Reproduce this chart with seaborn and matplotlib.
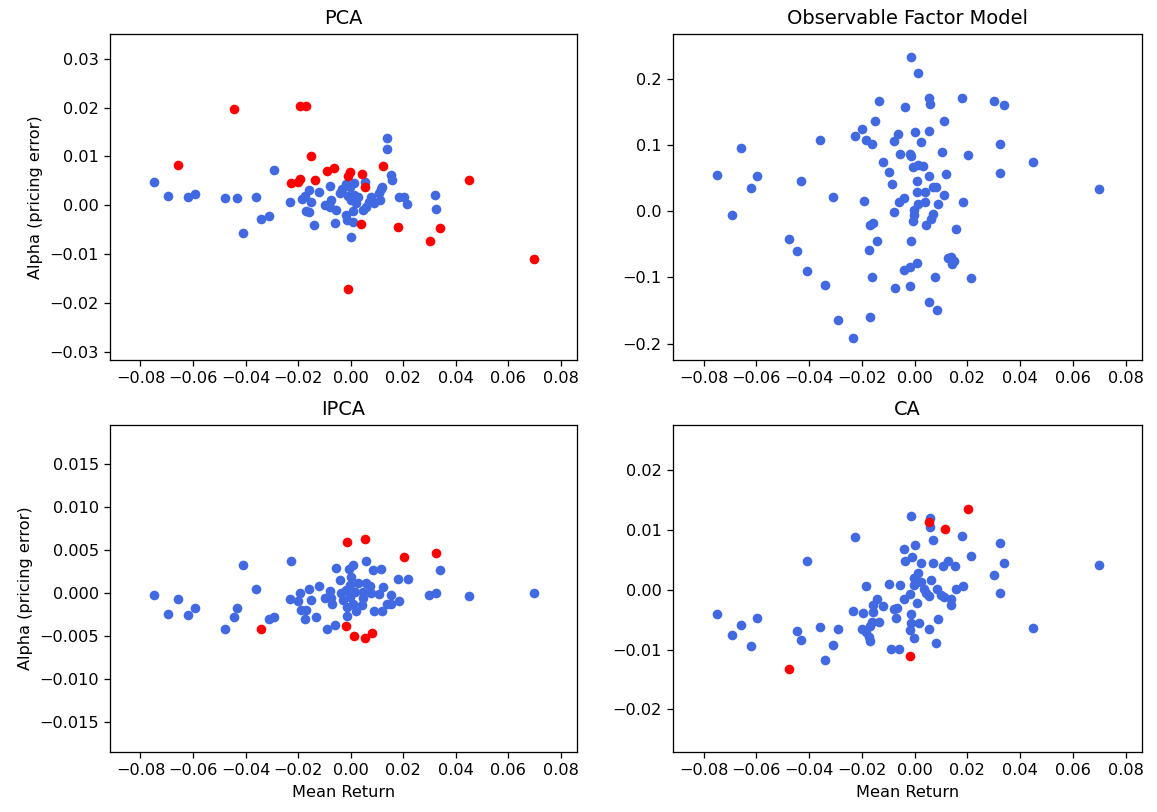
import numpy as np
import pandas as pd
import matplotlib
matplotlib.use("Agg")
import matplotlib.pyplot as plt
import seaborn as sns

# ---------------- PCA ----------------
pca_ret = [-0.0748, -0.0694, -0.0620, -0.0594, -0.0478, -0.0432, -0.0360, -0.0408,
           -0.0341, -0.0309, -0.0290, -0.0232, -0.0184, -0.0174, -0.0158, -0.0152,
           -0.0171, -0.0160, -0.0139, -0.0120, -0.0079, -0.0099, -0.0076, -0.0079,
           -0.0054, -0.0061, 0.0000, -0.0016, -0.0013, 0.0010,
           -0.0042, -0.0033, -0.0019, -0.0004, 0.0014, -0.0010, 0.0003, 0.0022,
           0.0028, 0.0011, 0.0047, 0.0060, 0.0070, 0.0079, 0.0091, 0.0108,
           0.0114, 0.0120, 0.0113, 0.0054, 0.0014,
           0.0139, 0.0139, 0.0153, 0.0157, 0.0184, 0.0203, 0.0215, 0.0323, 0.0324]
pca_alpha = [0.0047, 0.0020, 0.0018, 0.0023, 0.0014, 0.0014, 0.0016, -0.0057,
             -0.0029, -0.0021, 0.0073, 0.0006, 0.0012, 0.0020, 0.0031, 0.0007,
             -0.0012, -0.0014, -0.0040, 0.0028, 0.0040, 0.0000, 0.0011, -0.0003,
             -0.0010, -0.0037, -0.0065, -0.0020, -0.0031, -0.0034,
             0.0025, 0.0033, 0.0044, 0.0038, 0.0046, 0.0019, 0.0011, 0.0004,
             0.0018, -0.0012, -0.0010, -0.0003, 0.0007, 0.0018, 0.0004, 0.0025,
             0.0033, 0.0038, 0.0011, 0.0048, 0.0021,
             0.0137, 0.0115, 0.0063, 0.0051, 0.0016, 0.0018, 0.0003, 0.0021, -0.0008]
pca_sig_ret = [-0.0445, -0.0191, -0.0171, -0.0658, -0.0151, -0.0089, -0.0062,
               -0.0004, -0.0011, 0.0043, 0.0056, 0.0124, -0.0227, -0.0199, -0.0193,
               -0.0134, 0.0449, 0.0039, 0.0180, 0.0340, 0.0302, 0.0699, -0.0009]
pca_sig_alpha = [0.0198, 0.0204, 0.0204, 0.0082, 0.0101, 0.0070, 0.0076,
                 0.0068, 0.0059, 0.0064, 0.0038, 0.0080, 0.0045, 0.0048, 0.0054,
                 0.0052, 0.0052, -0.0039, -0.0044, -0.0046, -0.0074, -0.0110, -0.0172]

# ---------------- Observable factor model ----------------
ofm_ret = [-0.0013, 0.0011, -0.0135, -0.0036, 0.0056, 0.0059, 0.0180, 0.0300, 0.0338,
           -0.0151, -0.0200, -0.0227, -0.0184, -0.0160, -0.0360, -0.0659, -0.0749,
           -0.0596, -0.0620, -0.0694, -0.0432, -0.0311, -0.0193, -0.0063, -0.0078,
           0.0000, 0.0024, 0.0054, 0.0110, -0.0055, -0.0017, -0.0013, 0.0104, 0.0203,
           0.0323, 0.0324, 0.0449, 0.0699, -0.0120, -0.0098, -0.0087, -0.0008, 0.0014,
           0.0033, 0.0053, 0.0118, 0.0009, 0.0009, 0.0039, 0.0068, 0.0081, 0.0113,
           0.0184, -0.0039, -0.0061, -0.0078, 0.0014, 0.0040, 0.0090, -0.0002,
           -0.0002, -0.0005, 0.0071, 0.0062, 0.0044, 0.0156, -0.0169, -0.0156,
           -0.0141, -0.0174, -0.0013, -0.0478, -0.0445, -0.0409, -0.0341, -0.0290,
           -0.0233, -0.0171, -0.0163, -0.0074, -0.0017, -0.0041, -0.0019, 0.0010,
           0.0078, 0.0056, 0.0085, 0.0125, 0.0138, 0.0151, 0.0141, 0.0215]
ofm_alpha = [0.2329, 0.2078, 0.1660, 0.1570, 0.1701, 0.1620, 0.1706, 0.1656, 0.1595,
             0.1354, 0.1238, 0.1127, 0.1067, 0.1011, 0.1067, 0.0956, 0.0543,
             0.0528, 0.0347, -0.0060, 0.0458, 0.0216, 0.0156, 0.1157, 0.1057,
             0.1192, 0.1042, 0.1203, 0.1354, 0.0865, 0.0860, 0.0830, 0.0886, 0.0841,
             0.1007, 0.0578, 0.0744, 0.0332, 0.0735, 0.0584, 0.0403, 0.0669, 0.0694,
             0.0674, 0.0533, 0.0558, 0.0448, 0.0292, 0.0292, 0.0357, 0.0367, 0.0247,
             0.0136, 0.0196, 0.0136, -0.0010, 0.0106, 0.0136, 0.0106, 0.0015,
             -0.0060, -0.0146, -0.0050, -0.0121, -0.0216, -0.0277, -0.0206, -0.0186,
             -0.0448, -0.0589, -0.0453, -0.0418, -0.0609, -0.0910, -0.1122, -0.1641,
             -0.1917, -0.1605, -0.1001, -0.1167, -0.1127, -0.0895, -0.0845, -0.0790,
             -0.1001, -0.1369, -0.1499, -0.0704, -0.0689, -0.0750, -0.0805, -0.1011]
ofm_sig_ret = []
ofm_sig_alpha = []

# ---------------- IPCA ----------------
ipca_ret = [-0.0748, -0.0658, -0.0694, -0.0620, -0.0594, -0.0408, -0.0360, -0.0432,
            -0.0445, -0.0478, -0.0309, -0.0290, -0.0227, -0.0232, -0.0199, -0.0193,
            -0.0190, -0.0168, -0.0172, -0.0133, -0.0158, -0.0152, -0.0120, -0.0099,
            -0.0080, -0.0071, -0.0089, -0.0060, -0.0056, -0.0041, -0.0006, 0.0011,
            0.0001, 0.0058, 0.0085, 0.0115, 0.0180, 0.0217, 0.0340, 0.0300, 0.0324,
            0.0449, 0.0699,
            -0.0035, -0.0017, -0.0004, 0.0028, 0.0060, 0.0072, 0.0047, 0.0015,
            -0.0004, 0.0009, -0.0014, 0.0019, -0.0014, 0.0043, 0.0047, 0.0079,
            0.0108, 0.0125, 0.0155, 0.0139, 0.0155, 0.0186, 0.0091, 0.0119,
            -0.0029, -0.0076]
ipca_alpha = [-0.0002, -0.0007, -0.0024, -0.0025, -0.0017, 0.0033, 0.0005, -0.0017,
              -0.0028, -0.0042, -0.0030, -0.0027, 0.0037, -0.0007, -0.0009, 0.0000,
              -0.0019, -0.0019, -0.0030, -0.0028, 0.0005, -0.0008, 0.0008, -0.0005,
              0.0003, -0.0012, -0.0041, -0.0037, 0.0029, 0.0016, 0.0028, 0.0033,
              0.0019, 0.0037, 0.0027, 0.0028, 0.0017, 0.0017, 0.0027, -0.0002, 0.0000,
              -0.0003, 0.0000,
              0.0000, 0.0004, 0.0010, 0.0012, 0.0012, 0.0008, 0.0002, 0.0002,
              -0.0004, -0.0012, -0.0016, -0.0021, -0.0026, -0.0014, -0.0006, 0.0000,
              -0.0001, 0.0007, -0.0002, -0.0012, -0.0012, -0.0009, -0.0021, -0.0021,
              -0.0008, -0.0006]
ipca_sig_ret = [-0.0014, 0.0056, 0.0203, 0.0324, -0.0341, -0.0016, 0.0014, 0.0053, 0.0081]
ipca_sig_alpha = [0.0060, 0.0063, 0.0042, 0.0047, -0.0042, -0.0038, -0.0049, -0.0052, -0.0046]

# ---------------- CA ----------------
ca_ret = [-0.0014, 0.0058, 0.0057, 0.0071, 0.0180, 0.0324, 0.0215, 0.0338, 0.0300,
          0.0322, 0.0449, 0.0699, -0.0227, -0.0409, -0.0749, -0.0659, -0.0694,
          -0.0596, -0.0620, -0.0445, -0.0432, -0.0360, -0.0290, -0.0311, -0.0341,
          -0.0232, -0.0194, -0.0184, -0.0156, -0.0141, -0.0156, -0.0120, -0.0163,
          -0.0135, -0.0169, -0.0201, -0.0184, -0.0173, -0.0171, -0.0098, -0.0056,
          -0.0041, 0.0000, -0.0009, -0.0036, 0.0024, 0.0070, 0.0125, 0.0109, 0.0153,
          0.0011, -0.0002, 0.0024, 0.0062, -0.0002, 0.0037, 0.0043, 0.0056, 0.0085,
          0.0100, 0.0113, 0.0138, 0.0138, 0.0157, 0.0185, -0.0019, -0.0039, -0.0078,
          -0.0065, -0.0072, 0.0010, -0.0013, -0.0014, 0.0016, -0.0017, -0.0002,
          0.0053, 0.0090, 0.0080, -0.0090, -0.0061]
ca_alpha = [0.0123, 0.0119, 0.0104, 0.0083, 0.0089, 0.0078, 0.0056, 0.0044, 0.0025,
            -0.0006, -0.0064, 0.0041, 0.0088, 0.0048, -0.0040, -0.0059, -0.0076,
            -0.0048, -0.0094, -0.0069, -0.0084, -0.0063, -0.0065, -0.0093, -0.0117,
            -0.0035, -0.0039, 0.0007, -0.0026, -0.0016, -0.0038, -0.0028, -0.0054,
            -0.0054, -0.0060, -0.0066, -0.0070, -0.0079, -0.0086, 0.0009, 0.0008,
            0.0068, 0.0074, 0.0055, 0.0048, 0.0044, 0.0045, 0.0048, 0.0039, 0.0039,
            0.0028, 0.0019, 0.0013, 0.0016, 0.0008, 0.0002, -0.0006, -0.0010, 0.0001,
            -0.0009, -0.0013, -0.0016, -0.0026, 0.0001, 0.0007, -0.0007, -0.0015, -0.0032,
            -0.0030, -0.0047, -0.0022, -0.0041, -0.0056, -0.0055, -0.0067, -0.0080,
            -0.0065, -0.0049, -0.0089, -0.0099, -0.0099]
ca_sig_ret = [0.0203, 0.0054, 0.0114, -0.0478, -0.0017]
ca_sig_alpha = [0.01345, 0.0113, 0.0102, -0.0132, -0.0110]

mean_return_ticks = [-0.08, -0.06, -0.04, -0.02, 0.0, 0.02, 0.04, 0.06, 0.08]

panels = [
    ("PCA", pca_ret, pca_alpha, pca_sig_ret, pca_sig_alpha,
     (-0.03164, 0.03504), [-0.03, -0.02, -0.01, 0.0, 0.01, 0.02, 0.03]),
    ("Observable Factor Model", ofm_ret, ofm_alpha, ofm_sig_ret, ofm_sig_alpha,
     (-0.2249, 0.2672), [-0.2, -0.1, 0.0, 0.1, 0.2]),
    ("IPCA", ipca_ret, ipca_alpha, ipca_sig_ret, ipca_sig_alpha,
     (-0.01843, 0.01955), [-0.015, -0.01, -0.005, 0.0, 0.005, 0.01, 0.015]),
    ("CA", ca_ret, ca_alpha, ca_sig_ret, ca_sig_alpha,
     (-0.0271, 0.0275), [-0.02, -0.01, 0.0, 0.01, 0.02]),
]

W, H, DPI = 1157, 812, 116
fig = plt.figure(figsize=(W / DPI, H / DPI), dpi=DPI)

# axes boxes in pixels: left, top, right, bottom
boxes = [(110, 34, 577, 360), (673, 34, 1142, 360),
         (110, 425, 577, 752), (673, 425, 1142, 752)]

for i, (title, xr, ya, xs, ys, ylim, yticks) in enumerate(panels):
    l, t, r, b = boxes[i]
    ax = fig.add_axes([l / W, 1 - b / H, (r - l) / W, (b - t) / H])
    df = pd.DataFrame({
        "ret": list(xr) + list(xs),
        "alpha": list(ya) + list(ys),
        "group": ["insig"] * len(xr) + ["sig"] * len(xs),
    })
    # ordinary assets first, significant pricing errors drawn on top in red
    sns.scatterplot(data=df[df.group == "insig"], x="ret", y="alpha", ax=ax,
                    color="royalblue", s=36, linewidth=0, legend=False)
    if len(xs):
        sns.scatterplot(data=df[df.group == "sig"], x="ret", y="alpha", ax=ax,
                        color="red", s=36, linewidth=0, legend=False)
    ax.set_xlim(-0.0916, 0.0862)
    ax.set_ylim(*ylim)
    ax.set_xticks(mean_return_ticks)
    ax.set_yticks(yticks)
    ax.set_title(title, fontsize=12)
    ax.set_xlabel("Mean Return" if i >= 2 else "")
    ax.set_ylabel("Alpha (pricing error)" if i % 2 == 0 else "")

fig.savefig("out.png", dpi=DPI)
